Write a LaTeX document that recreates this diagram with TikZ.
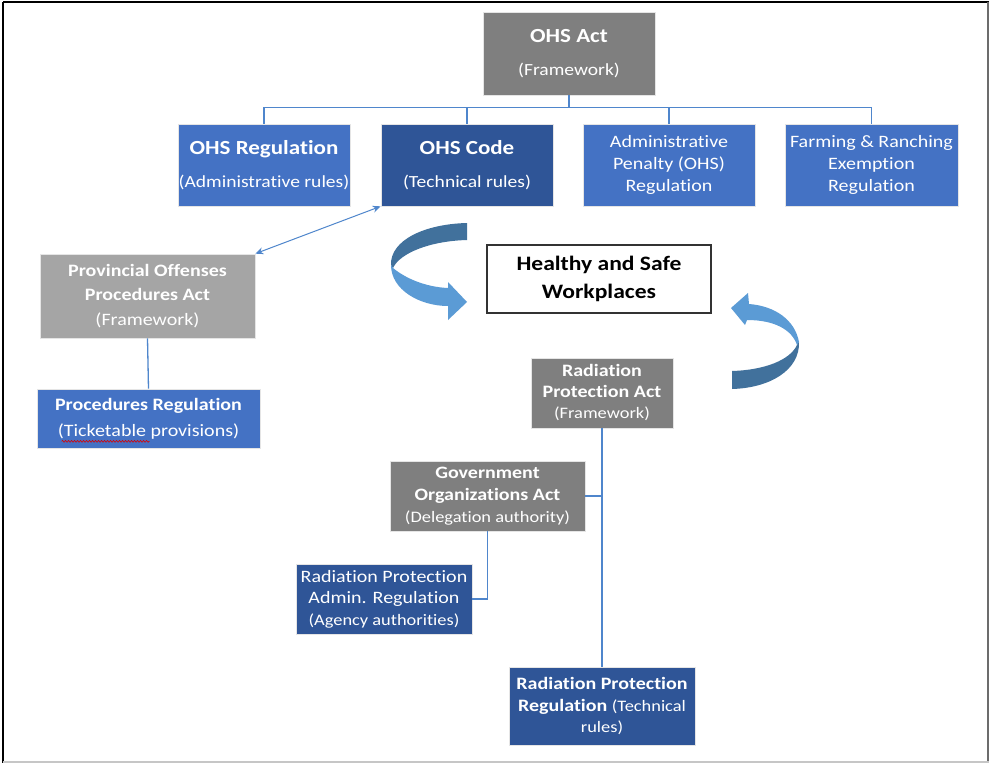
\documentclass[tikz,border=0pt]{standalone}
\usepackage{fontspec}
\setmainfont{Carlito}[FakeStretch=1.15, Ligatures=NoCommon]
\usetikzlibrary{arrows.meta,decorations.pathmorphing}
\definecolor{gr}{HTML}{7F7F7F}
\definecolor{lgr}{HTML}{A5A5A5}
\definecolor{bl}{HTML}{4472C4}
\definecolor{dbl}{HTML}{2F5597}
\definecolor{ln}{HTML}{4F86CC}
\definecolor{arrdark}{HTML}{41719C}
\definecolor{arrlight}{HTML}{5B9BD5}
\newcommand\fbig{\fontsize{20}{33}\selectfont\bfseries}
\newcommand\fsubA{\fontsize{17}{33}\selectfont}
\newcommand\fsm{\fontsize{16}{22}\selectfont}
\begin{document}
\begin{tikzpicture}[x=1pt,y=-1pt,
  box/.style 2 args={draw=white!80!gray, line width=0.7pt, text=white, align=center,
    inner sep=0pt, minimum width=#1, minimum height=#2},
  grbox/.style 2 args={box={#1}{#2}, fill=gr},
  lgrbox/.style 2 args={box={#1}{#2}, fill=lgr},
  blbox/.style 2 args={box={#1}{#2}, fill=bl},
  dblbox/.style 2 args={box={#1}{#2}, fill=dbl},
  conn/.style={draw=ln, line width=1.3pt},
  dblarrow/.style={draw=ln, line width=1pt, >={Stealth[length=8pt,width=7pt]}, <->},
]
\useasboundingbox (0,0) rectangle (989,763);
\fill[white] (0,0) rectangle (989,763);
% frame
\draw[black, line width=2.5pt] (3,2) -- (989,2);
\draw[black, line width=2.5pt] (3,2) -- (3,763);
\draw[gray!85!black, line width=1.5pt] (988,2) -- (988,763);
\draw[gray!45, line width=1.5pt] (3,762) -- (989,762);

% top
\node[grbox={172pt}{83pt}, font=\fbig] (act) at (569,53.5) {OHS Act\\{\fsubA\mdseries (Framework)}};
\node[blbox={172pt}{82pt}, font=\fbig] (reg) at (264,165) {OHS Regulation\\{\fsubA\mdseries (Administrative rules)}};
\node[dblbox={172pt}{82pt}, font=\fbig] (code) at (467,165) {OHS Code\\{\fsubA\mdseries (Technical rules)}};
\node[blbox={172pt}{82pt}, font=\fontsize{17.4}{22}\selectfont] (pen) at (669,165) {Administrative\\Penalty (OHS)\\Regulation};
\node[blbox={173pt}{82pt}, font=\fontsize{17.4}{22}\selectfont] (farm) at (871.5,165) {Farming \& Ranching\\Exemption\\Regulation};

\draw[conn] (act.south) -- ++(0,12) -| (reg.north);
\draw[conn] (act.south) -- ++(0,12) -| (code.north);
\draw[conn] (act.south) -- ++(0,12) -| (pen.north);
\draw[conn] (act.south) -- ++(0,12) -| (farm.north);

% healthy
\node[draw=black!80, line width=1.2pt, fill=white, minimum width=224pt, minimum height=68pt,
  align=center, inner sep=0pt, font=\fontsize{20.5}{28}\selectfont\bfseries] (hsw) at (599,279) {Healthy and Safe\\Workplaces};

% left column
\node[lgrbox={215pt}{84pt}, font=\fontsize{17.4}{24.5}\selectfont] (prov) at (147.5,296)
  {\textbf{Provincial Offenses}\\\textbf{Procedures Act}\\(Framework)};
\node[blbox={223pt}{59pt}, font=\fontsize{17.4}{26}\selectfont] (proc) at (148.5,418.5)
  {\textbf{Procedures Regulation}\\(Ticketable provisions)};
\draw[conn] (prov.south) -- (proc.north);
\draw[dblarrow] (prov.north east) -- (code.south west);
\draw[red!85!black, line width=0.6pt, decorate, decoration={snake, amplitude=0.9pt, segment length=3pt}]
  ([xshift=25pt,yshift=7pt]proc.south west) -- ([xshift=113pt,yshift=7pt]proc.south west);

% radiation
\node[grbox={142pt}{70pt}, font=\fontsize{17.4}{21}\selectfont] (rpa) at (602,393)
  {\textbf{Radiation}\\\textbf{Protection Act}\\{\fsm (Framework)}};
\node[grbox={195pt}{70pt}, font=\fontsize{17.4}{22}\selectfont] (goa) at (487.5,496)
  {\textbf{Government}\\\textbf{Organizations Act}\\{\fsm (Delegation authority)}};
\node[dblbox={176pt}{70pt}, font=\fontsize{17.4}{21.5}\selectfont] (rpad) at (384,599)
  {Radiation Protection\\Admin. Regulation\\{\fsm (Agency authorities)}};
\node[dblbox={186pt}{78pt}, font=\fontsize{17.4}{21.5}\selectfont] (rpr) at (602,706)
  {\textbf{Radiation Protection}\\\textbf{Regulation} {\fsm (Technical}\\{\fsm rules)}};
\draw[conn] (rpa.south) -- (rpr.north);
\draw[conn] (goa.east) -- (goa.east -| rpa.south);
\draw[conn] (goa.south) |- (rpad.east);

% curved arrows
\fill[arrdark] (467,223) .. controls (425,224) and (390,240) .. (391,265) -- (393,268)
  .. controls (400,253) and (430,241) .. (467,240) -- cycle;
\fill[arrlight] (391,265) .. controls (391,290) and (420,306) .. (448,306) -- (448,320) -- (467,302)
  -- (448,282) -- (448,288) .. controls (425,287) and (405,278) .. (393,268) -- cycle;
\fill[arrlight] (748,293) -- (731,308) -- (745,325) -- (747,320) .. controls (775,320) and (792,330) .. (797,345)
  -- (799,342) .. controls (795,320) and (775,306) .. (749,304) -- cycle;
\fill[arrdark] (799,342) .. controls (800,370) and (770,388) .. (732,389) -- (732,371)
  .. controls (765,370) and (790,360) .. (797,345) -- cycle;
\end{tikzpicture}
\end{document}
